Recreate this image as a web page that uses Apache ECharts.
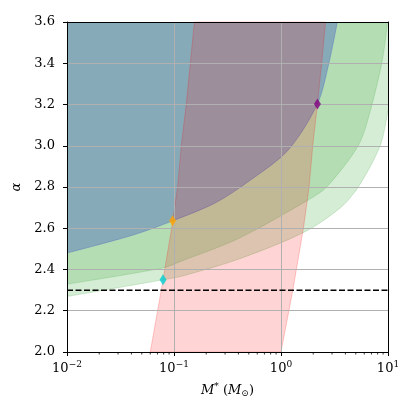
<!DOCTYPE html>
<html>
<head>
<meta charset="utf-8">
<script src="https://cdn.jsdelivr.net/npm/echarts@6/dist/echarts.min.js"></script>
<style>
  html, body { margin: 0; padding: 0; background: #fff; }
  #chart { width: 415px; height: 415px; }
</style>
</head>
<body>
<div id="chart"></div>
<script>
// region boundaries (x = M*, y = alpha)
const blueX = [0.01, 0.042, 0.097, 0.243, 0.52, 1.17, 2.19, 2.80, 3.36];
const blueY = [2.48, 2.568, 2.636, 2.723, 2.834, 2.98, 3.203, 3.40, 3.60];

const greenInnerX = [0.01, 0.078, 0.115, 0.40, 1.81, 2.70, 5.31, 6.87, 8.85, 9.9];
const greenInnerY = [2.329, 2.407, 2.439, 2.55, 2.738, 2.802, 3.004, 3.174, 3.415, 3.6];

const greenOuterX = [0.01, 0.079, 0.115, 0.40, 1.63, 3.6, 5.31, 8.5, 10];
const greenOuterY = [2.269, 2.350, 2.366, 2.45, 2.58, 2.70, 2.802, 3.004, 3.174];

// pink band: left and right edge (M*) at each alpha
const pinkY = [2.0, 2.3, 2.6, 2.8, 3.0, 3.2, 3.4, 3.6];
const pinkLeft = [0.060, 0.076, 0.095, 0.108, 0.117, 0.130, 0.142, 0.155];
const pinkRight = [1.00, 1.29, 1.62, 1.83, 1.98, 2.19, 2.40, 2.61];

// markers
const markX = [0.079, 0.097, 2.19];
const markY = [2.35, 2.636, 3.203];
const markColors = ['#00ced1', '#ffa500', '#800080'];

const dashedAlpha = 2.3;

const yTicks = [2.0, 2.2, 2.4, 2.6, 2.8, 3.0, 3.2, 3.4, 3.6];
const xMin = 0.01, xMax = 10;
const minorTicks = [0.02, 0.03, 0.04, 0.05, 0.06, 0.07, 0.08, 0.09,
                    0.2, 0.3, 0.4, 0.5, 0.6, 0.7, 0.8, 0.9,
                    2, 3, 4, 5, 6, 7, 8, 9];

const serif = 'DejaVu Serif';

function zip(xs, ys) {
    return xs.map((x, i) => [x, ys[i]]);
}

const blueCol = 'rgba(89,119,189,0.5)';
const greenCol = 'rgba(44,160,44,0.2)';
const pinkCol = 'rgba(255,0,0,0.17)';

let myChart = echarts.init(document.getElementById('chart'));
myChart.setOption({
    animation: false,
    grid: { left: 67, top: 22, width: 321, height: 330 },
    xAxis: [
        {
            type: 'log',
            logBase: 10,
            min: xMin,
            max: xMax,
            z: 10,
            axisLine: { lineStyle: { color: '#000', width: 1 } },
            axisTick: { length: 4, lineStyle: { color: '#000' } },
            axisLabel: {
                margin: 8,
                formatter: function (v) {
                    let e = Math.round(Math.log10(v));
                    return '{b|10}{s|' + (e < 0 ? '\u2212' : '') + Math.abs(e) + '}';
                },
                rich: {
                    b: { fontFamily: serif, fontSize: 13, color: '#000' },
                    s: { fontFamily: serif, fontSize: 9, color: '#000', padding: [0, 0, 8, 0] }
                }
            },
            splitLine: { show: true, lineStyle: { color: '#b0b0b0', width: 1 } },
            name: '{i|M}{s|*}{n| (}{i|M}{u|\u2299}{n|)}',
            nameLocation: 'middle',
            nameGap: 30,
            nameTextStyle: {
                rich: {
                    i: { fontFamily: serif, fontStyle: 'italic', fontSize: 13, color: '#000' },
                    n: { fontFamily: serif, fontSize: 13, color: '#000' },
                    s: { fontFamily: serif, fontSize: 9, color: '#000', padding: [0, 0, 8, 0] },
                    u: { fontFamily: serif, fontSize: 9, color: '#000', padding: [6, 0, 0, 0] }
                }
            }
        },
        {
            type: 'log', position: 'top', min: xMin, max: xMax, z: 10,
            axisLine: { lineStyle: { color: '#000', width: 1 } },
            axisTick: { show: false }, axisLabel: { show: false }, splitLine: { show: false }
        }
    ],
    yAxis: [
        {
            type: 'value',
            min: yTicks[0],
            max: yTicks[yTicks.length - 1],
            interval: 0.2,
            z: 10,
            axisLine: { show: true, lineStyle: { color: '#000', width: 1 } },
            axisTick: { show: true, length: 4, lineStyle: { color: '#000' } },
            axisLabel: {
                margin: 12,
                fontFamily: serif,
                fontSize: 13,
                color: '#000',
                formatter: v => v.toFixed(1)
            },
            splitLine: { show: true, lineStyle: { color: '#b0b0b0', width: 1 } },
            name: '\u03b1',
            nameLocation: 'middle',
            nameGap: 36,
            nameTextStyle: { fontFamily: serif, fontStyle: 'italic', fontSize: 13, color: '#000' }
        },
        {
            type: 'value', position: 'right', min: yTicks[0], max: yTicks[yTicks.length - 1], z: 10,
            axisLine: { show: true, lineStyle: { color: '#000', width: 1 } },
            axisTick: { show: false }, axisLabel: { show: false }, splitLine: { show: false }
        }
    ],
    series: [
        {
            type: 'line', data: zip(greenOuterX, greenOuterY), symbol: 'none', smooth: 0.3, z: 2,
            lineStyle: { color: greenCol, width: 1 },
            areaStyle: { origin: 'end', color: greenCol, opacity: 1 }
        },
        {
            type: 'line', data: zip(greenInnerX, greenInnerY), symbol: 'none', smooth: 0.3, z: 2,
            lineStyle: { color: greenCol, width: 1 },
            areaStyle: { origin: 'end', color: greenCol, opacity: 1 }
        },
        {
            type: 'line', data: zip(blueX, blueY), symbol: 'none', smooth: 0.3, z: 3,
            lineStyle: { color: blueCol, width: 1 },
            areaStyle: { origin: 'end', color: blueCol, opacity: 1 }
        },
        {
            type: 'custom', z: 4,
            data: [[pinkLeft[0], pinkY[0]]],
            renderItem: function (params, api) {
                let pts = [];
                for (let i = 0; i < pinkY.length; i++) pts.push(api.coord([pinkLeft[i], pinkY[i]]));
                for (let i = pinkY.length - 1; i >= 0; i--) pts.push(api.coord([pinkRight[i], pinkY[i]]));
                return {
                    type: 'polygon',
                    shape: { points: pts },
                    style: { fill: pinkCol, stroke: 'rgba(255,0,0,0.2)', lineWidth: 1 }
                };
            }
        },
        {
            type: 'line', data: [[xMin, dashedAlpha], [xMax, dashedAlpha]], symbol: 'none', z: 11,
            lineStyle: { color: '#000', width: 1.5, type: [6, 2.5] }
        },
        {
            type: 'custom', z: 11,
            data: minorTicks.map(v => [v, yTicks[0]]),
            renderItem: function (params, api) {
                let p = api.coord([api.value(0), api.value(1)]);
                return {
                    type: 'line',
                    shape: { x1: p[0], y1: p[1], x2: p[0], y2: p[1] + 2.5 },
                    style: { stroke: '#000', lineWidth: 0.8 }
                };
            }
        },
        {
            type: 'scatter', z: 12,
            symbol: 'diamond',
            symbolSize: [7, 11],
            data: markX.map((x, i) => ({ value: [x, markY[i]], itemStyle: { color: markColors[i] } }))
        }
    ]
});
</script>
</body>
</html>
